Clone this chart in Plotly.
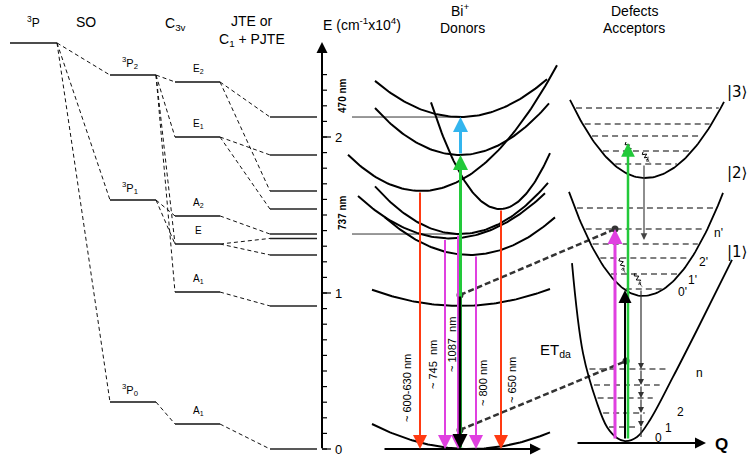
import numpy as np
import plotly.graph_objects as go

# ======================= DATA (energies in 10^4 cm^-1) =======================
ion_name = "<sup>3</sup>P"
ion_level = 2.603

so_names = ["<sup>3</sup>P<sub>2</sub>", "<sup>3</sup>P<sub>1</sub>", "<sup>3</sup>P<sub>0</sub>"]
so_levels = [2.397, 1.596, 0.301]

c3v_names = ["E<sub>2</sub>", "E<sub>1</sub>", "A<sub>2</sub>", "E", "A<sub>1</sub>", "A<sub>1</sub>"]
c3v_levels = [2.353, 2.000, 1.494, 1.314, 1.006, 0.160]

jte_levels = [2.128, 1.885, 1.654, 1.538, 1.378, 1.350, 1.244, 0.917, 0.0]

so_to_c3v = [(0, 0), (0, 1), (0, 3), (0, 4), (1, 2), (1, 3), (2, 5)]
c3v_to_jte = [(0, 0), (0, 2), (1, 1), (1, 3), (2, 4), (3, 5), (3, 6), (4, 7), (5, 8)]

axis_minor_ticks = [round(0.1 * i, 1) for i in range(25)]
axis_major_ticks = [0, 1, 2]
axis_tick_labels = ["0", "1", "2"]

marked_levels = [2.128, 1.378]
marked_texts = ["470 nm", "737 nm"]

# Bi+ donor potential curves (minimum energies equal the JTE levels)
donor_min = jte_levels
donor_x0 = [460, 460, 421, 500, 460, 450, 470, 460, 470]
donor_k = [0.0050, 0.0065, 0.0068, 0.0224, 0.0066, 0.0050, 0.0052, 0.0021, 0.0026]
donor_xl = [375, 375, 348, 431, 375, 358, 385, 372, 372]
donor_xr = [547, 549, 557, 550, 548, 545, 555, 550, 550]

# Donor transitions
em_from = [1.654, 1.350, 1.378, 1.244, 1.538]
em_kind = ["red", "mag", "mag", "mag", "red"]
nir_from = 0.987
exc_green = [0.0, 1.885]
exc_cyan = [1.885, 2.128]
em_texts = ["~ 600-630 nm", "~ 745  nm", "~ 1087  nm", "~ 800 nm", "~ 650 nm"]

# Defect acceptors
acc3_min, acc2_min = 1.737, 0.981
acc3_levels = [2.186, 2.083, 2.006, 1.910, 1.827]
acc2_levels = [1.545, 1.410, 1.314, 1.224, 1.122, 1.026]
acc1_levels = [0.513, 0.410, 0.327, 0.231, 0.141]
acc1_curve_x = [572, 583, 597, 607, 617, 625, 637, 650, 673, 697, 732]
acc1_curve_E = [1.192, 0.615, 0.295, 0.141, 0.071, 0.051, 0.077, 0.186, 0.462, 0.763, 1.212]
acc_kets = ["|3⟩", "|2⟩", "|1⟩"]
acc2_vib_labels = ["n'", "2'", "1'", "0'"]
acc1_vib_labels = ["n", "2", "1", "0"]

acc_mag = [0.058, 1.410]
acc_green = [0.058, 1.962]
acc_black = [0.058, 1.019]
acc_gray = [1.827, 1.340]
cascade = [1.026, 0.513, 0.410, 0.327, 0.231, 0.141]
cascade_end = 0.077
et_donor = [0.987, 0.122]
et_acceptor = [1.410, 0.564]
relax_from = [1.968, 1.904, 1.224, 1.128]
relax_to = [1.885, 1.833, 1.128, 1.038]

# ======================= LAYOUT GEOMETRY =======================
W, H = 751, 458
S = 156.0           # px per energy unit
Y0 = 449.0          # px row of E = 0


def ypx(p):
    return (Y0 - p) / S


X_ION = (10, 57)
X_SO = (110, 156)
X_C3V = (175, 220)
X_JTE = (270, 317)
X_AX = 322
X_DON = 460
X_ACC_MAG, X_ACC_BLK, X_ACC_GRN, X_ACC_GRAY = 615, 625, 628, 643
FONT = "Liberation Sans, Arial, sans-serif"
RED, MAG, GREEN, CYAN = "#ff3a12", "#e040e0", "#22c93a", "#33b5ee"
COL = {"red": RED, "mag": MAG}

fig = go.Figure()


def segs(pairs, color, width, dash="solid"):
    xs, ys = [], []
    for (xa, ya, xb, yb) in pairs:
        xs += [xa, xb, None]
        ys += [ya, yb, None]
    fig.add_trace(go.Scatter(x=xs, y=ys, mode="lines", hoverinfo="skip",
                             line=dict(color=color, width=width, dash=dash)))


def curve(x, y, color="black", width=2, shape="linear"):
    fig.add_trace(go.Scatter(x=x, y=y, mode="lines", hoverinfo="skip",
                             line=dict(color=color, width=width, shape=shape)))


def arrow(x0, y0, x1, y1, color, width, size=1.2, head=2):
    fig.add_annotation(x=x1, y=y1, ax=x0, ay=y0, xref="x", yref="y", axref="x", ayref="y",
                       showarrow=True, arrowhead=head, arrowsize=size, arrowwidth=width,
                       arrowcolor=color, text="", standoff=0, startstandoff=0)


def txt(x, y, s, size=13, angle=0, family=FONT, color="black", xanchor="center"):
    fig.add_annotation(x=x, y=y, xref="x", yref="y", text=s, showarrow=False,
                       font=dict(size=size, family=family, color=color), textangle=angle,
                       xanchor=xanchor, yanchor="middle")


# ---------------- left: level correlation diagram ----------------
lv = [(X_ION[0], ion_level, X_ION[1], ion_level)]
lv += [(X_SO[0], e, X_SO[1], e) for e in so_levels]
lv += [(X_C3V[0], e, X_C3V[1], e) for e in c3v_levels]
segs(lv, "#111", 1.5)
segs([(X_JTE[0], e, X_JTE[1], e) for e in jte_levels], "#222", 1.5)

dl = [(X_ION[1], ion_level, X_SO[0], e) for e in so_levels]
dl += [(X_SO[1], so_levels[a], X_C3V[0], c3v_levels[b]) for a, b in so_to_c3v]
dl += [(X_C3V[1], c3v_levels[a], X_JTE[0], jte_levels[b]) for a, b in c3v_to_jte]
segs(dl, "#111", 1, dash="4px,3px")

# labels
txt(33, ypx(22), ion_name, 12)
txt(86, ypx(22), "SO", 14)
txt(175, ypx(24), "C<sub>3v</sub>", 14)
txt(252, ypx(21), "JTE or", 14)
txt(252, ypx(40), "C<sub>1</sub> + PJTE", 14)
for name, e in zip(so_names, so_levels):
    txt(130, e + 0.08, name, 11)
for name, e in zip(c3v_names, c3v_levels):
    txt(198, e + 0.085, name, 10)

# ---------------- energy axis ----------------
arrow(X_AX, -0.005, X_AX, ypx(42), "black", 2, size=1.1)
segs([(X_AX, t, X_AX + 5, t) for t in axis_minor_ticks], "black", 1.2)
segs([(X_AX, t, X_AX + 9, t) for t in axis_major_ticks], "black", 1.2)
for t, lab in zip(axis_major_ticks, axis_tick_labels):
    txt(338, t, lab, 13)
txt(362, ypx(24), "E (cm<sup>-1</sup>x10<sup>4</sup>)", 14)
for e, t in zip(marked_levels, marked_texts):
    txt(343, e + 0.135, "<b>" + t + "</b>", 10, angle=-90)
segs([(352, e, X_DON, e) for e in marked_levels], "#333", 1)

# ---------------- Bi+ donors ----------------
for E0, x0, k, xl, xr in zip(donor_min, donor_x0, donor_k, donor_xl, donor_xr):
    x = np.linspace(xl, xr, 90)
    curve(x, E0 + k / S * (x - x0) ** 2, "black", 2)
arrow(383, 0, 541, 0, "black", 2, size=1.1)
txt(460, ypx(10), "Bi<sup>+</sup>", 14)
txt(462, ypx(28), "Donors", 14)

em_x = [420, 445, 458, 476, 501]
arrow(X_DON + 0.5, exc_green[0], X_DON + 0.5, exc_green[1], GREEN, 3, size=1.0)
arrow(X_DON + 0.5, exc_cyan[0], X_DON + 0.5, exc_cyan[1], CYAN, 3, size=1.0)
for x, e, kd in zip(em_x, em_from, em_kind):
    arrow(x, e, x, 0, COL[kd], 2, size=1.4)
arrow(X_DON, nir_from, X_DON, 0, "black", 2.5, size=1.2)

lab_pos = [(407, 388), (433, 365), (452, 345), (483, 383), (512, 380)]
for (x, yp), t in zip(lab_pos, em_texts):
    txt(x, ypx(yp), t, 11, angle=-90)

# ET dashed lines
segs([(X_DON, et_donor[0], X_ACC_MAG, et_acceptor[0]),
      (X_DON, et_donor[1], X_ACC_BLK + 1, et_acceptor[1])], "#333", 2.5, dash="6px,3px")
txt(555, ypx(350), "ET<sub>da</sub>", 15)

# ---------------- Defect acceptors ----------------
def asym(x0, E0, kl, kr, xl, xr):
    x = np.linspace(xl, xr, 90)
    k = np.where(x < x0, kl, kr) / S
    return x, E0 + k * (x - x0) ** 2


def ext(e, x0, E0, kl, kr, inset=2):
    d = (e - E0) * S
    return x0 - np.sqrt(d / kl) + inset, x0 + np.sqrt(d / kr) - inset


P3 = (645, acc3_min, 0.0139, 0.0122)
P2 = (643, acc2_min, 0.0190, 0.0161)
x, y = asym(*P3, 570, 724)
curve(x, y, "black", 1.8)
x, y = asym(*P2, 569, 723)
curve(x, y, "black", 1.8)
curve(acc1_curve_x, acc1_curve_E, "black", 1.8, shape="spline")

dash_lv = [(ext(e, *P3)[0], e, ext(e, *P3)[1], e) for e in acc3_levels]
dash_lv += [(ext(e, *P2)[0], e, ext(e, *P2)[1], e) for e in acc2_levels]
lx = np.interp(acc1_levels, acc1_curve_E[:6][::-1], acc1_curve_x[:6][::-1])
rx = np.interp(acc1_levels, acc1_curve_E[5:], acc1_curve_x[5:])
dash_lv += [(a + 2, e, b - 9, e) for a, b, e in zip(lx, rx, acc1_levels)]
segs(dash_lv, "#555", 1.5, dash="6px,4px")

arrow(576, 0.038, 706, 0.038, "black", 2, size=1.1)
txt(721, ypx(444), "<b>Q</b>", 17)

# arrows
arrow(X_ACC_MAG, acc_mag[0], X_ACC_MAG, acc_mag[1], MAG, 3, size=1.0)
arrow(X_ACC_GRN, acc_green[0], X_ACC_GRN, acc_green[1], GREEN, 2.5, size=1.1)
arrow(X_ACC_BLK, acc_black[0], X_ACC_BLK, acc_black[1], "black", 2, size=1.3)
arrow(X_ACC_GRAY + 1, acc_gray[0], X_ACC_GRAY + 1, acc_gray[1], "#444", 1.2, size=1.1)
for a, b in zip(cascade[:-1], cascade[1:]):
    arrow(X_ACC_GRAY - 2, a, X_ACC_GRAY - 2, b, "#333", 1.2, size=1.0)
segs([(X_ACC_GRAY - 2, cascade[-1], X_ACC_GRAY - 2, cascade_end)], "#333", 1.2)

# relaxation squiggles
relax_x = [(626, 632), (643, 650), (620, 625), (635, 642)]
for (xa, xb), ea, eb in zip(relax_x, relax_from, relax_to):
    pa = np.array([xa, Y0 - ea * S])
    pb = np.array([xb, Y0 - eb * S])
    d = pb - pa
    nrm = np.array([-d[1], d[0]]) / np.hypot(*d)
    t = np.linspace(0, 1, 8)
    amp = np.array([0, 2, -2, 2, -2, 2, 0, 0])
    pts = pa[None, :] + t[:, None] * d[None, :] + amp[:, None] * nrm[None, :]
    fig.add_trace(go.Scatter(x=pts[:, 0], y=(Y0 - pts[:, 1]) / S, mode="lines+markers",
                             hoverinfo="skip", line=dict(color="black", width=1),
                             marker=dict(symbol="arrow", size=[0] * 7 + [6], angleref="previous",
                                         color="black")))

# dots
fig.add_trace(go.Scatter(x=[X_DON, X_DON, X_ACC_MAG, X_ACC_BLK + 1],
                         y=et_donor + et_acceptor, mode="markers", hoverinfo="skip",
                         marker=dict(color="#333", size=7)))

txt(634, ypx(11), "Defects", 14)
txt(634, ypx(28), "Acceptors", 14)
for s, yp in zip(acc_kets, [92, 173, 252]):
    txt(749, ypx(yp), s, 15, family="DejaVu Sans, sans-serif", xanchor="right")
for s, (x, yp) in zip(acc2_vib_labels, [(718, 233), (703, 262), (692, 280), (682, 292)]):
    txt(x, ypx(yp), s, 12)
for s, (x, yp) in zip(acc1_vib_labels, [(699, 373), (680, 412), (668, 428), (658, 438)]):
    txt(x, ypx(yp), s, 12)

fig.update_layout(
    width=W, height=H, margin=dict(l=0, r=0, t=0, b=0),
    paper_bgcolor="white", plot_bgcolor="white", showlegend=False,
    xaxis=dict(range=[0, W], visible=False, fixedrange=True),
    yaxis=dict(range=[ypx(H), ypx(0)], visible=False, fixedrange=True),
)
fig.write_html("out.html")
